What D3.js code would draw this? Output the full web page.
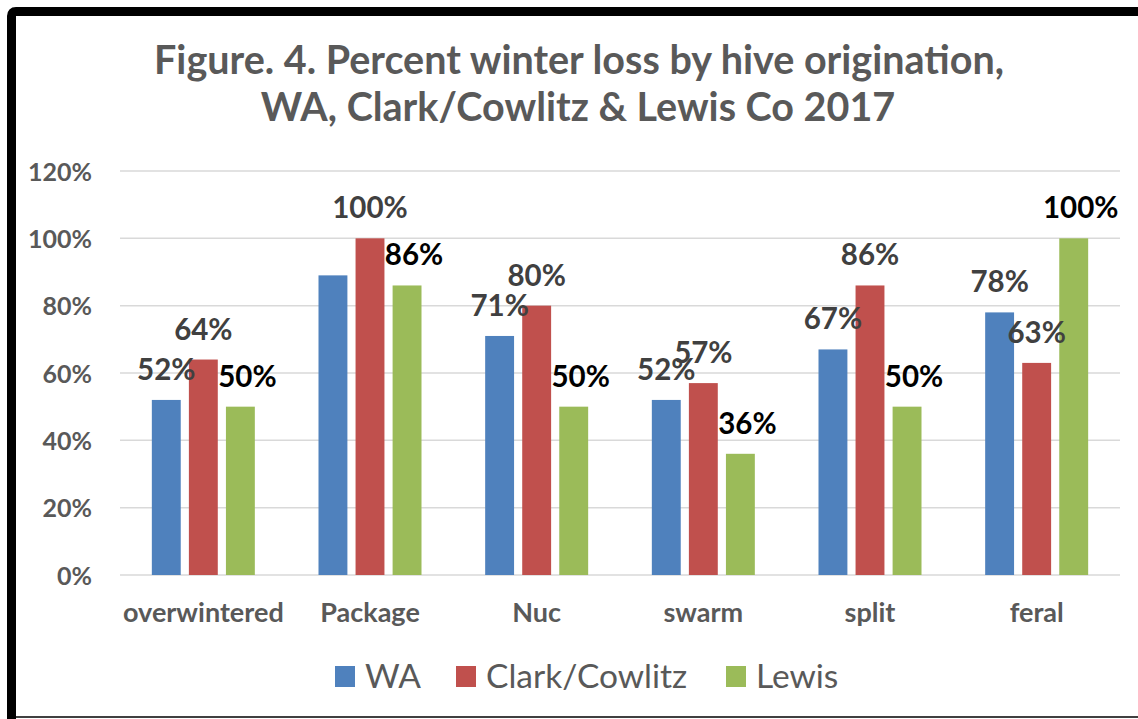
<!DOCTYPE html>
<html>
  <head>
    <meta charset="utf-8" />
    <style>
      body { margin: 0; background: #fff; }
      svg { display: block; }
      .tick-label, .cat-label, .title { font-family: Lato, "Open Sans", sans-serif; font-weight: 700; fill: #595959; }
      .value-label { font-family: Lato, "Open Sans", sans-serif; font-weight: 700; }
      .legend text { font-family: Lato, "Open Sans", sans-serif; fill: #595959; }
    </style>
  </head>
  <body>
    <div id="chart"></div>
    <script src="https://d3js.org/d3.v7.min.js"></script>
    <script>
    // data
    var categories = ["overwintered", "Package", "Nuc", "swarm", "split", "feral"];
    var seriesNames = ["WA", "Clark/Cowlitz", "Lewis"];
    var waValues = [52, 89, 71, 52, 67, 78];
    var clarkValues = [64, 100, 80, 57, 86, 63];
    var lewisValues = [50, 86, 50, 36, 50, 100];
    var yTicks = [0, 20, 40, 60, 80, 100, 120];
    // the WA label on Package is not shown in the original
    var hiddenLabels = [["Package", "WA"]];

    var colors = ["#4F81BD", "#C0504D", "#9BBB59"];
    var labelColors = ["#404040", "#404040", "#000000"];
    var labelShift = [0, 0, 7];

    var width = 1138,
        height = 719;

    var svg = d3.select('#chart')
      .append('svg')
      .attr('width', width)
      .attr('height', height);

    // frame: thick black left + top edge, thin dark bottom
    svg.append('path')
      .attr('d', 'M11.5,' + (height + 10) + ' V16 Q11.5,11.5 16,11.5 H' + (width + 10))
      .attr('fill', 'none')
      .attr('stroke', '#000')
      .attr('stroke-width', 9);
    svg.append('line')
      .attr('x1', 16).attr('x2', width)
      .attr('y1', 717).attr('y2', 717)
      .attr('stroke', '#404040')
      .attr('stroke-width', 2);

    // title
    var title = svg.append('text')
      .attr('class', 'title')
      .attr('text-anchor', 'middle')
      .style('font-size', '39.5px');
    title.append('tspan').attr('x', 579).attr('y', 74)
      .text('Figure. 4. Percent winter loss by hive origination,');
    title.append('tspan').attr('x', 578).attr('y', 121)
      .text('WA, Clark/Cowlitz & Lewis Co 2017');

    // scales
    var x0 = d3.scaleBand()
      .domain(categories)
      .range([120, 1120]);

    var x1 = d3.scaleBand()
      .domain(seriesNames)
      .range([-51.5, 51.5])
      .paddingInner(0.22);

    var y = d3.scaleLinear()
      .domain([0, 120])
      .range([575, 171]);

    // gridlines
    svg.append('g')
      .selectAll('line')
      .data(yTicks)
      .enter().append('line')
      .attr('x1', 120).attr('x2', 1120)
      .attr('y1', function(d) { return y(d); })
      .attr('y2', function(d) { return y(d); })
      .attr('stroke', '#d9d9d9')
      .attr('stroke-width', 1.5);

    // y axis labels
    var yAxis = d3.axisLeft(y)
      .tickValues(yTicks)
      .tickSize(0)
      .tickPadding(0)
      .tickFormat(function(d) { return d + '%'; });

    var gy = svg.append('g')
      .attr('transform', 'translate(92,0)')
      .call(yAxis);
    gy.select('.domain').remove();
    gy.selectAll('text')
      .attr('class', 'tick-label')
      .attr('dy', '0.36em')
      .style('font-size', '25px');

    // bars
    var allValues = [waValues, clarkValues, lewisValues];
    var rows = [];
    seriesNames.forEach(function(s, si) {
      categories.forEach(function(c, ci) {
        rows.push({ series: s, si: si, cat: c, value: allValues[si][ci] });
      });
    });

    function barX(d) {
      return x0(d.cat) + x0.bandwidth() / 2 + x1(d.series);
    }

    svg.append('g')
      .selectAll('rect')
      .data(rows)
      .enter().append('rect')
      .attr('x', barX)
      .attr('y', function(d) { return y(d.value); })
      .attr('width', x1.bandwidth())
      .attr('height', function(d) { return y(0) - y(d.value); })
      .attr('fill', function(d) { return colors[d.si]; });

    // value labels
    var shown = rows.filter(function(d) {
      return !hiddenLabels.some(function(h) { return h[0] === d.cat && h[1] === d.series; });
    });

    svg.append('g')
      .selectAll('text')
      .data(shown)
      .enter().append('text')
      .attr('class', 'value-label')
      .attr('text-anchor', 'middle')
      .attr('x', function(d) { return barX(d) + x1.bandwidth() / 2 + labelShift[d.si]; })
      .attr('y', function(d) { return y(d.value) - 20; })
      .attr('fill', function(d) { return labelColors[d.si]; })
      .style('font-size', '29.5px')
      .text(function(d) { return d.value + '%'; });

    // category labels
    var xAxis = d3.axisBottom(x0).tickSize(0).tickPadding(0);
    var gx = svg.append('g')
      .attr('transform', 'translate(0,622)')
      .call(xAxis);
    gx.select('.domain').remove();
    gx.selectAll('text')
      .attr('class', 'cat-label')
      .attr('dy', 0)
      .style('font-size', '27px');

    // legend
    var legendX = [335, 456, 726];
    var legend = svg.append('g').attr('class', 'legend');
    var item = legend.selectAll('g')
      .data(seriesNames)
      .enter().append('g')
      .attr('transform', function(d, i) { return 'translate(' + legendX[i] + ',0)'; });
    item.append('rect')
      .attr('x', 0).attr('y', 666)
      .attr('width', 20).attr('height', 21)
      .attr('fill', function(d, i) { return colors[i]; });
    item.append('text')
      .attr('x', 30).attr('y', 688)
      .style('font-size', '33.5px')
      .text(function(d) { return d; });
    </script>
  </body>
</html>
